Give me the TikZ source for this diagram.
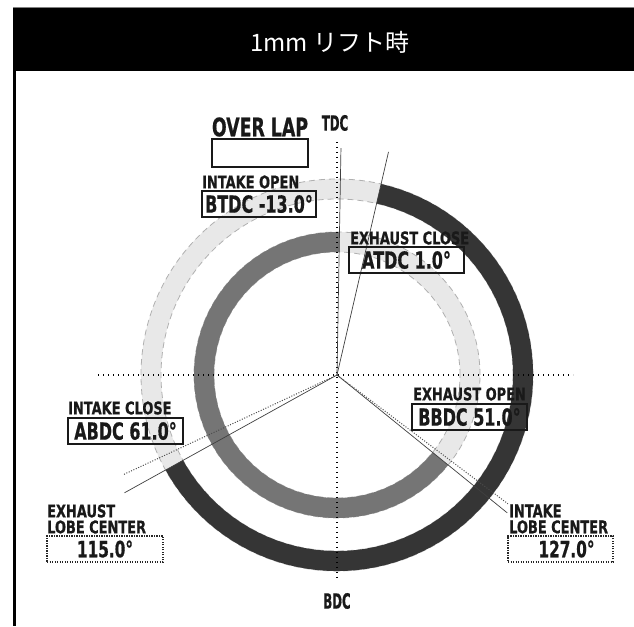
\documentclass[tikz,border=0pt]{standalone}
\usepackage{fontspec}
\newfontfamily\lblfont[FakeStretch=0.68, FakeBold=0.6]{DejaVu Sans}
\newfontfamily\captfont[FakeStretch=0.74, FakeBold=0.6]{DejaVu Sans}
\newfontfamily\lblnfont[FakeStretch=0.56, FakeBold=0.6]{DejaVu Sans}
\newfontfamily\cjk{Noto Sans CJK JP}
\usetikzlibrary{calc}
\definecolor{ringdark}{HTML}{353535}
\definecolor{ringmid}{HTML}{757575}
\definecolor{ringlight}{HTML}{E8E8E8}
\definecolor{ringedge}{HTML}{B0B0B0}
\tikzset{
  capt/.style={font=\captfont\bfseries\fontsize{17.5}{16}\selectfont, text=black!90, inner sep=0pt, anchor=west, align=left},
  valbox/.style={draw=black!90, line width=1.6pt, minimum width=115pt, minimum height=26pt, inner sep=0pt, font=\lblfont\bfseries\fontsize{23.5}{23}\selectfont, text=black!90},
  lobebox/.style={draw=black!85, line width=1.2pt, dash pattern=on 1.2pt off 1.3pt, minimum height=26pt, inner sep=0pt, font=\lblfont\bfseries\fontsize{22.5}{22}\selectfont, text=black!90},
  ringbg/.style={line width=20pt, draw=ringlight},
  ringedgeline/.style={draw=ringedge, line width=0.8pt, dash pattern=on 6pt off 4pt},
  crossline/.style={draw=black, line width=1.3pt, dash pattern=on 1.4pt off 3.6pt},
  eventline/.style={draw=black!75, line width=0.7pt},
  lobeline/.style={draw=black!70, line width=1pt, dash pattern=on 1pt off 1.6pt},
  dcl/.style={font=\lblnfont\bfseries\fontsize{21}{21}\selectfont, text=black!90, inner sep=0pt}
}
\begin{document}
\begin{tikzpicture}[x=1pt,y=1pt]
\useasboundingbox (0,0) rectangle (634,626);
\fill[white] (0,0) rectangle (634,626);
% header and frame
\fill[black] (13,555) rectangle (634,619);
\draw[gray, line width=0.8pt] (13,619) -- (634,619);
\fill[black] (13,0) rectangle (16,555);
\node[text=white, font=\cjk\fontsize{24}{24}\selectfont] (title) at (330,584) {1mm リフト時};

\coordinate (C) at (337,251);
% background tracks
\draw[ringbg] (C) circle[radius=186pt];
\draw[ringbg] (C) circle[radius=133pt];
\draw[ringedgeline] (C) circle[radius=176pt];
\draw[ringedgeline] (C) circle[radius=196pt];
\draw[ringedgeline] (C) circle[radius=123pt];
\draw[ringedgeline] (C) circle[radius=143pt];
% intake (outer) 13 -> 241 deg
\draw[line width=20pt, ringdark] ($(C)+(77:186pt)$) arc[start angle=77, end angle=-151, radius=186pt];
% exhaust (inner) 129 -> 361 deg
\draw[line width=20pt, ringmid] ($(C)+(-39:133pt)$) arc[start angle=-39, end angle=-271, radius=133pt];

% crosshair
\coordinate (hl) at (98,251);
\coordinate (hr) at (573,251);
\coordinate (vt) at (337,484);
\coordinate (vb) at (337,46);
\draw[crossline] (hl) -- (hr);
\draw[crossline] (vt) -- (vb);

% event lines
\coordinate (ec) at ($(C)+(89:227pt)$);
\coordinate (io) at ($(C)+(77:229pt)$);
\coordinate (ic) at ($(C)+(-151:243pt)$);
\coordinate (eo) at ($(C)+(-39:219pt)$);
\coordinate (il) at ($(C)+(-37:214pt)$);
\coordinate (el) at ($(C)+(-155:236pt)$);
\draw[eventline] (C) -- (ec);
\draw[eventline] (C) -- (io);
\draw[eventline] (C) -- (ic);
\draw[eventline] (C) -- (eo);
\draw[lobeline] (C) -- (il);
\draw[lobeline] (C) -- (el);

% labels
\node[dcl] (tdc) at (335,503) {TDC};
\node[dcl] (bdc) at (337,25) {BDC};
\node[font=\lblfont\bfseries\fontsize{25.5}{25}\selectfont, text=black!90, inner sep=0pt] (ovl) at (260,499) {OVER LAP};
\node[draw=black!90, line width=1.6pt, minimum width=96pt, minimum height=28pt, inner sep=0pt] (ovlbox) at (260,473) {};

\node[capt] (iocap) at (202,444) {INTAKE OPEN};
\node[valbox, minimum width=114pt] (iobox) at (259,422) {BTDC -13.0°};

\node[capt] (eccap) at (350,388) {EXHAUST CLOSE};
\node[valbox] (ecbox) at (406.5,366) {ATDC 1.0°};

\node[capt] (iccap) at (68,218) {INTAKE CLOSE};
\node[valbox] (icbox) at (125.5,195) {ABDC 61.0°};

\node[capt] (eocap) at (413,232) {EXHAUST OPEN};
\node[valbox] (eobox) at (469.5,209) {BBDC 51.0°};

\node[capt] (elcap) at (47,107) {EXHAUST\\LOBE CENTER};
\node[lobebox, minimum width=116pt] (elbox) at (105,77) {115.0°};

\node[capt] (ilcap) at (509,107) {INTAKE\\LOBE CENTER};
\node[lobebox, minimum width=105pt] (ilbox) at (560.5,77) {\hspace*{12pt}127.0°};
\end{tikzpicture}
\end{document}
